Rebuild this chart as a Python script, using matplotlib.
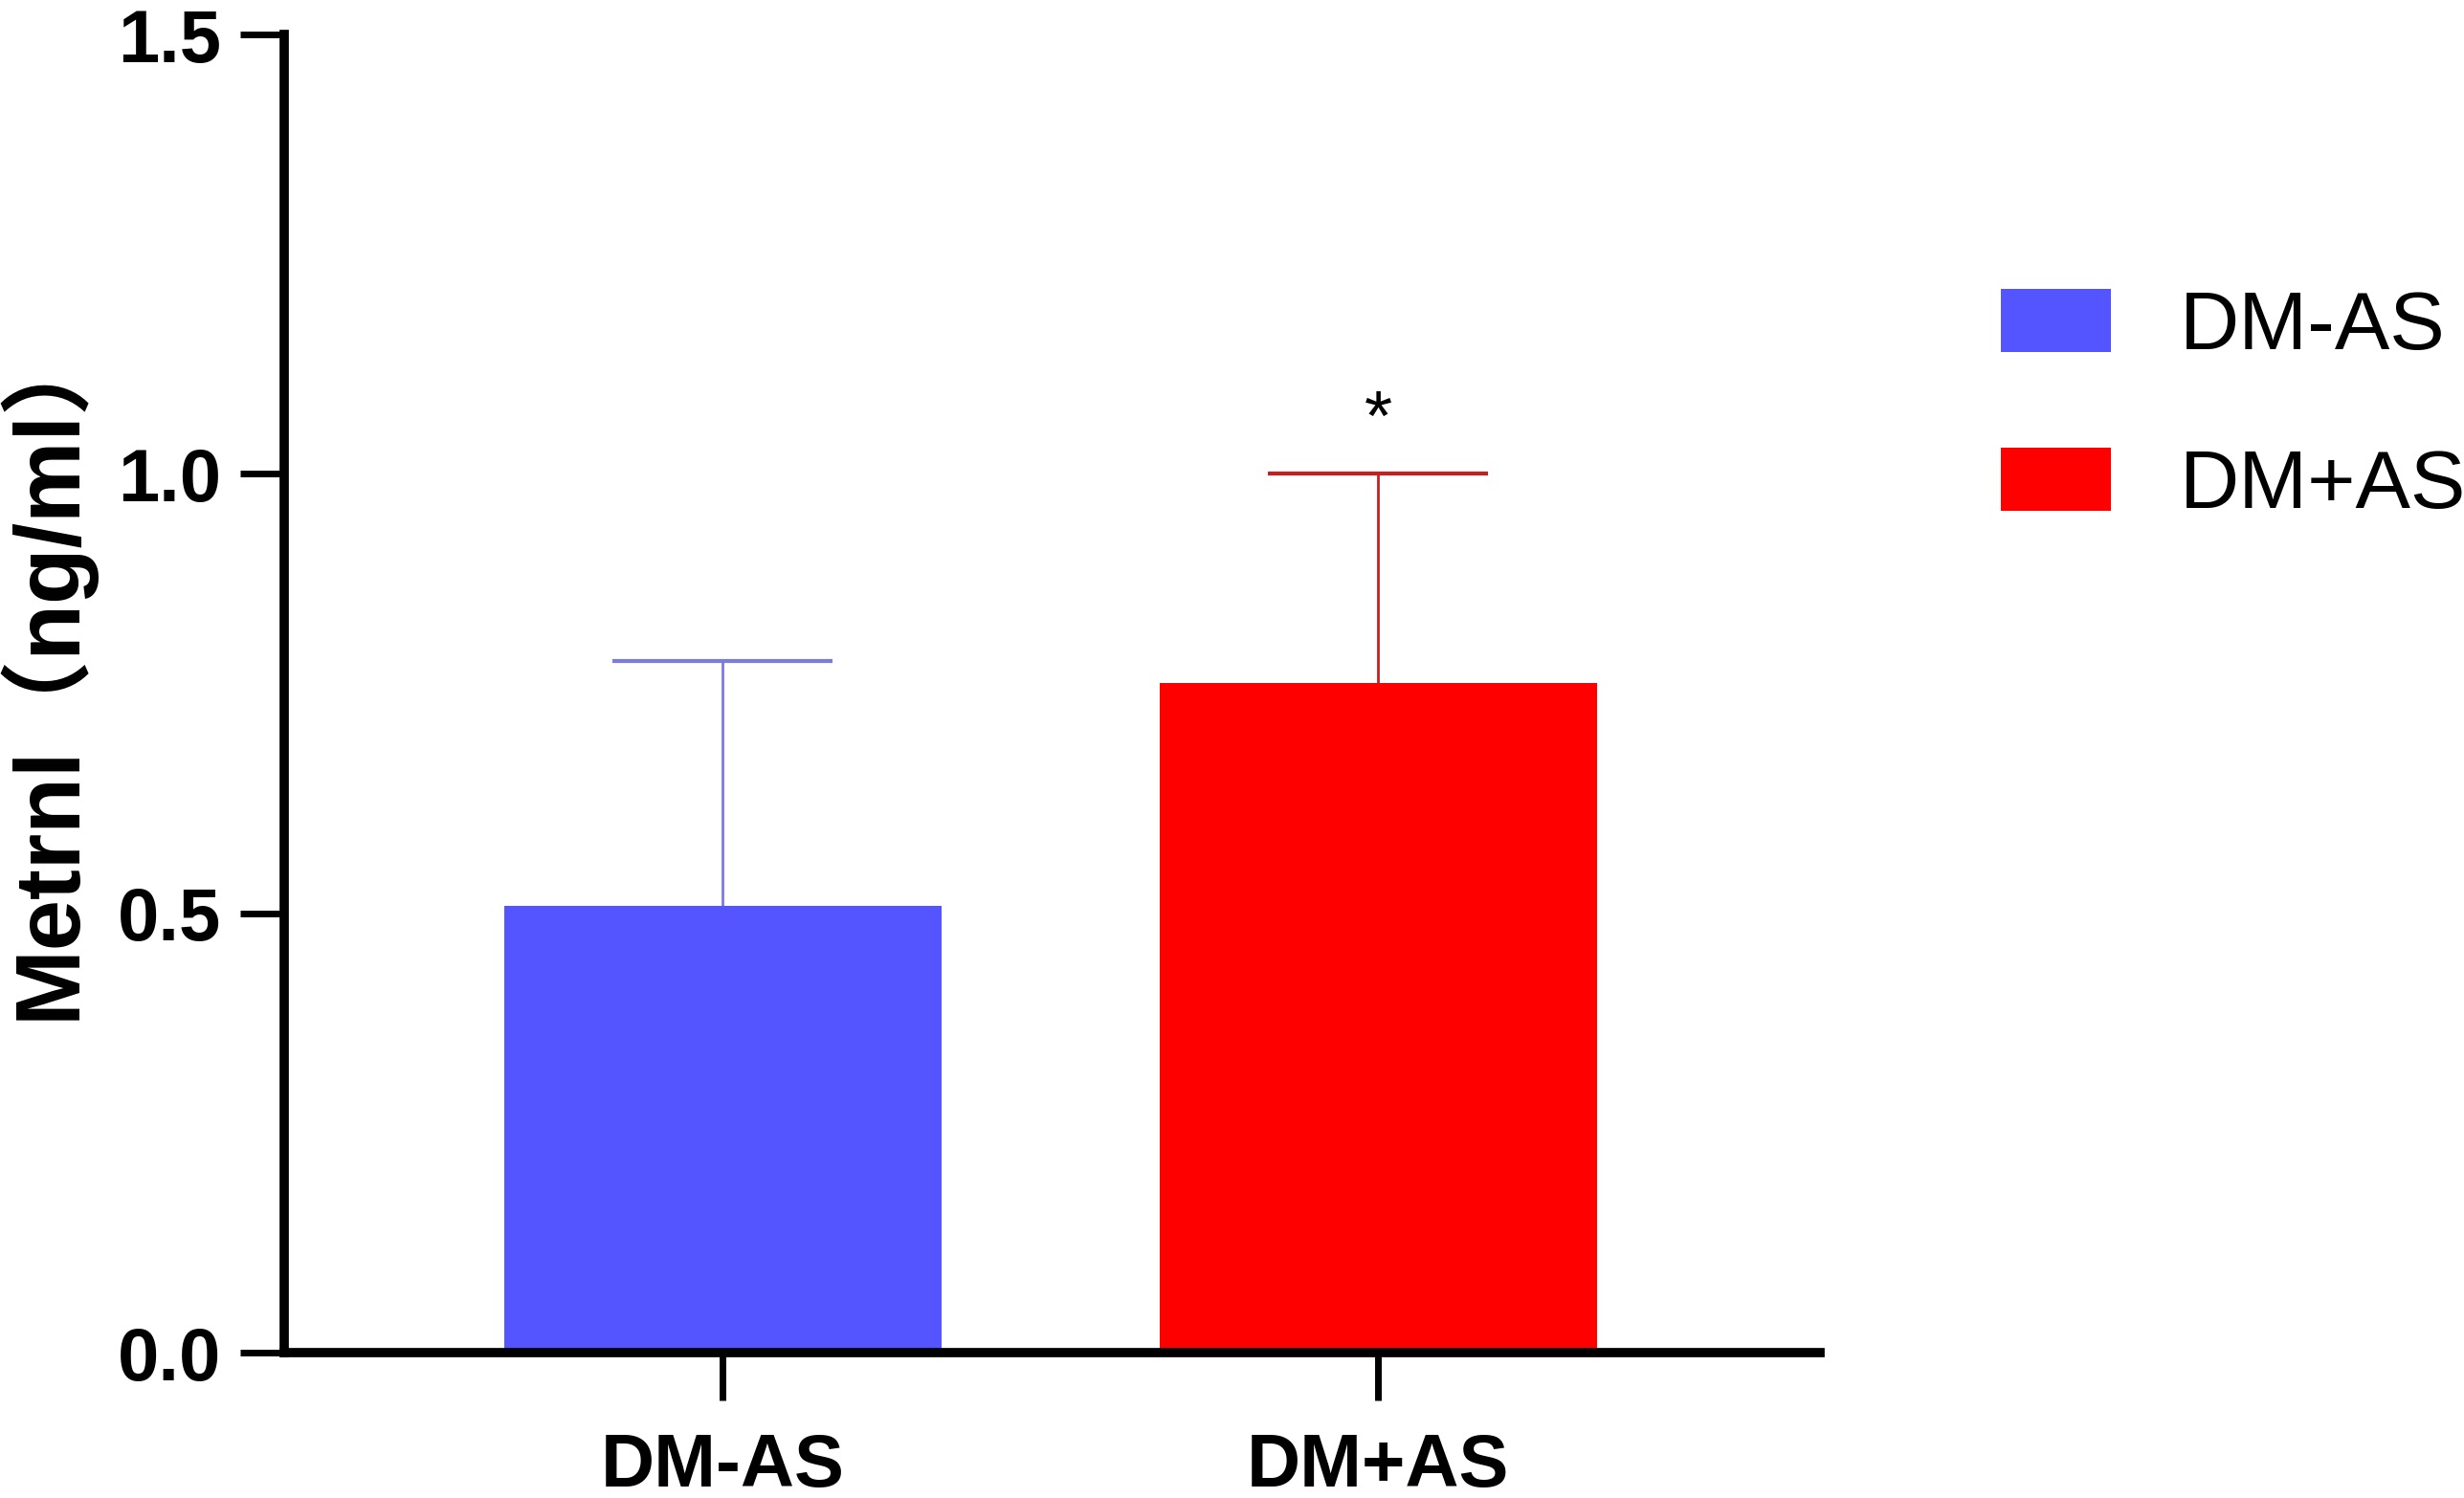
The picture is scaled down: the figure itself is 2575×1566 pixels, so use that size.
import numpy as np
import matplotlib.pyplot as plt
from matplotlib.patches import Patch

# data
groups = ['DM-AS', 'DM+AS']
means = [0.508, 0.762]
sds = [0.279, 0.238]
bar_colors = ['#5555FF', '#FF0000']
err_colors = ['#7B7BE0', '#C81E1E']
star_y = 1.06

fig = plt.figure(figsize=(25.75, 15.66), dpi=100)
ax = fig.add_axes([0.1153, 0.097, 0.6233, 0.880])

x = np.arange(len(groups))
ax.bar(x, means, width=0.667, color=bar_colors, zorder=2)

# only the upper half of the SD is drawn
cap_half = 0.168
for i in range(len(groups)):
    top = means[i] + sds[i]
    ax.vlines(x[i], means[i], top, color=err_colors[i], lw=2, zorder=1)
    ax.hlines(top, x[i] - cap_half, x[i] + cap_half, color=err_colors[i], lw=3,
              zorder=1)

ax.text(x[1], star_y, '*', ha='center', va='center', fontsize=54,
        family=['Liberation Sans', 'DejaVu Sans'])

ax.set_xlim(-0.669, 1.674)
ax.set_ylim(0, 1.5)
ax.set_yticks([0, 0.5, 1.0, 1.5])
ax.set_yticklabels(['0.0', '0.5', '1.0', '1.5'])
ax.set_xticks(x)
ax.set_xticklabels(groups)

for s in ['top', 'right']:
    ax.spines[s].set_visible(False)
for s in ['left', 'bottom']:
    ax.spines[s].set_linewidth(7)

ax.tick_params(axis='y', length=33, width=5, pad=14)
ax.tick_params(axis='x', length=36, width=5, pad=24)
for lab in ax.get_yticklabels():
    lab.set_fontsize(56)
    lab.set_fontweight('bold')
    lab.set_family(['Liberation Sans', 'DejaVu Sans'])
for lab in ax.get_xticklabels():
    lab.set_fontsize(56)
    lab.set_fontweight('bold')
    lab.set_family(['Liberation Sans', 'DejaVu Sans'])

fig.text(0.018, 0.554, 'Metrnl（ng/ml）', rotation=90, ha='center', va='center',
         fontsize=69, fontweight='bold',
         family=['Liberation Sans', 'Noto Sans CJK SC', 'DejaVu Sans'])

handles = [Patch(facecolor=c, edgecolor='none') for c in bar_colors]
fig.legend(handles, groups, loc='upper left', bbox_to_anchor=(0.812, 0.807),
           frameon=False, borderpad=0, borderaxespad=0,
           handlelength=1.34, handleheight=0.8, handletextpad=0.83,
           labelspacing=0.99,
           prop={'family': ['Liberation Sans', 'DejaVu Sans'], 'size': 62})

fig.savefig('out.png', dpi=100)
